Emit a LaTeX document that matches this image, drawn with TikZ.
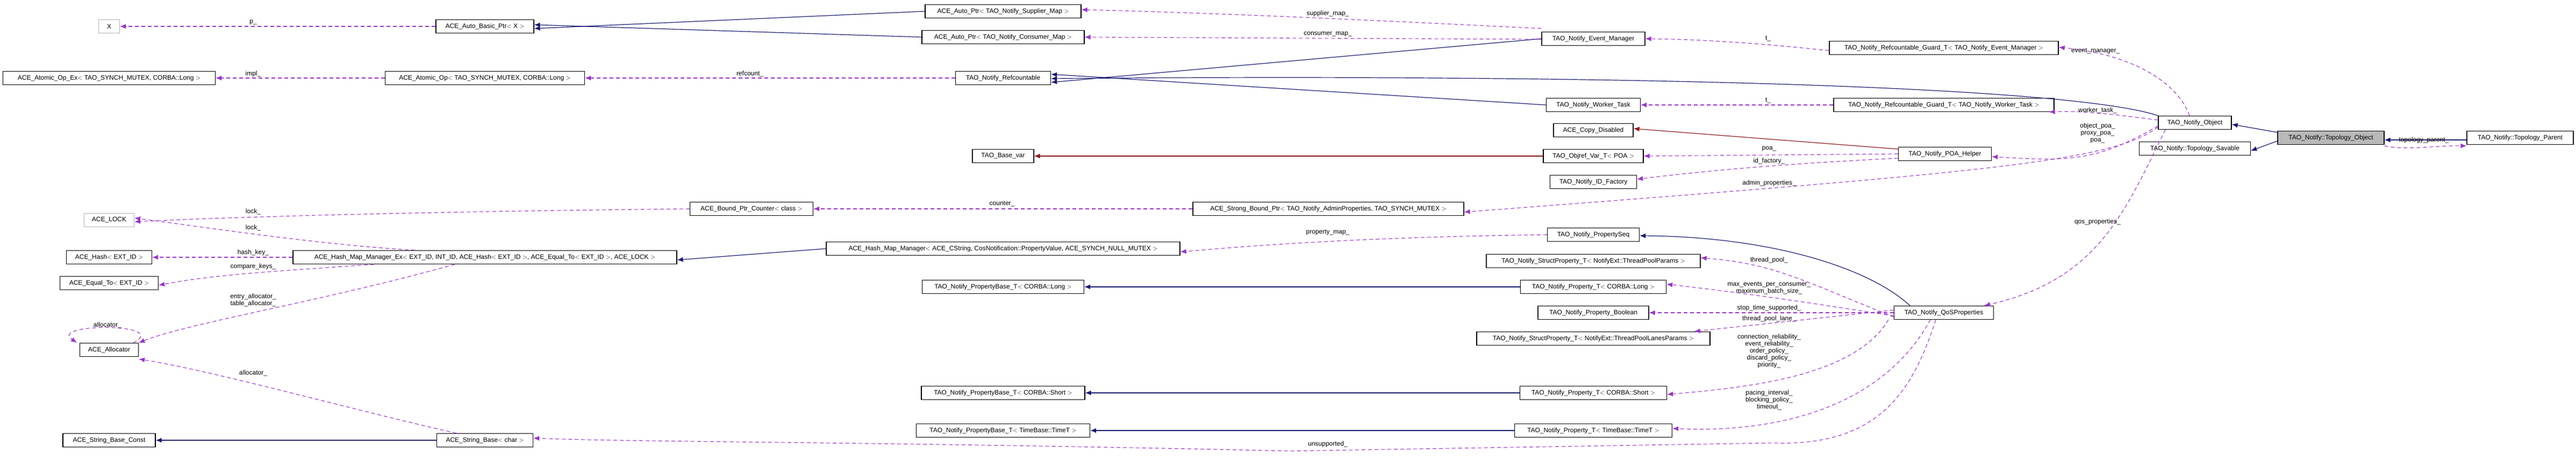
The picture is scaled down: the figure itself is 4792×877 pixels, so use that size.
\documentclass[tikz,border=0pt]{standalone}
\usepackage{fontspec}
\setmainfont{Liberation Sans}
\usetikzlibrary{arrows.meta}
\definecolor{inh}{HTML}{191970}
\definecolor{prot}{HTML}{8B1A1A}
\definecolor{usecol}{HTML}{9A32CD}
\tikzset{
  cls/.style={draw, line width=1.2pt, minimum height=25pt, inner sep=2pt, font=\fontsize{12}{14}\selectfont},
  ext/.style={cls, draw=gray!60},
  inherit/.style={draw=inh, line width=1.2pt, -{Latex[length=11pt,width=9pt]}},
  protinh/.style={draw=prot, line width=1.2pt, -{Latex[length=11pt,width=9pt]}},
  uses/.style={draw=usecol, line width=1.1pt, dash pattern=on 7pt off 5pt, -{Latex[length=11pt,width=9pt,fill=usecol]}},
  lbl/.style={font=\fontsize{12}{13}\selectfont, align=center, inner sep=0pt}
}
\begin{document}
\begin{tikzpicture}[x=1pt,y=-1pt]
\useasboundingbox (0,0) rectangle (4792,877);
% left column
\node[ext, minimum width=39pt] (x) at (203,49) {X};
\node[cls, minimum width=395pt] (opex) at (203,145) {ACE\_Atomic\_Op\_Ex$<$ TAO\_SYNCH\_MUTEX, CORBA::Long $>$};
\node[ext, minimum width=93pt] (lock) at (203,409) {ACE\_LOCK};
\node[cls, minimum width=159pt] (hash) at (203,478) {ACE\_Hash$<$ EXT\_ID $>$};
\node[cls, minimum width=183pt] (equal) at (203,526) {ACE\_Equal\_To$<$ EXT\_ID $>$};
\node[cls, minimum width=109pt] (alloc) at (203,650) {ACE\_Allocator};
\node[cls, minimum width=172pt] (sbconst) at (203,818) {ACE\_String\_Base\_Const};
% second column
\node[cls, minimum width=182pt] (autobasic) at (902,49) {ACE\_Auto\_Basic\_Ptr$<$ X $>$};
\node[cls, minimum width=371pt] (atomicop) at (902,145) {ACE\_Atomic\_Op$<$ TAO\_SYNCH\_MUTEX, CORBA::Long $>$};
\node[cls, minimum width=714pt] (hashex) at (902,478) {ACE\_Hash\_Map\_Manager\_Ex$<$ EXT\_ID, INT\_ID, ACE\_Hash$<$ EXT\_ID $>$, ACE\_Equal\_To$<$ EXT\_ID $>$, ACE\_LOCK $>$};
\node[cls, minimum width=179pt] (strbase) at (902,818) {ACE\_String\_Base$<$ char $>$};
\node[cls, minimum width=229pt] (counter) at (1398,388) {ACE\_Bound\_Ptr\_Counter$<$ class $>$};
% third column
\node[cls, minimum width=290pt] (autosup) at (1866,21) {ACE\_Auto\_Ptr$<$ TAO\_Notify\_Supplier\_Map $>$};
\node[cls, minimum width=302pt] (autocons) at (1866,69) {ACE\_Auto\_Ptr$<$ TAO\_Notify\_Consumer\_Map $>$};
\node[cls, minimum width=177pt] (refc) at (1866,145) {TAO\_Notify\_Refcountable};
\node[cls, minimum width=114pt] (basevar) at (1866,290) {TAO\_Base\_var};
\node[cls, minimum width=504pt] (strong) at (2471,388) {ACE\_Strong\_Bound\_Ptr$<$ TAO\_Notify\_AdminProperties, TAO\_SYNCH\_MUTEX $>$};
\node[cls, minimum width=658pt] (hashmgr) at (1866,462) {ACE\_Hash\_Map\_Manager$<$ ACE\_CString, CosNotification::PropertyValue, ACE\_SYNCH\_NULL\_MUTEX $>$};
\node[cls, minimum width=301pt] (pblong) at (1866,533) {TAO\_Notify\_PropertyBase\_T$<$ CORBA::Long $>$};
\node[cls, minimum width=304pt] (pbshort) at (1866,730) {TAO\_Notify\_PropertyBase\_T$<$ CORBA::Short $>$};
\node[cls, minimum width=323pt] (pbtime) at (1866,800) {TAO\_Notify\_PropertyBase\_T$<$ TimeBase::TimeT $>$};
% fourth column
\node[cls, minimum width=192pt] (evmgr) at (2964,72) {TAO\_Notify\_Event\_Manager};
\node[cls, minimum width=175pt] (worker) at (2964,195) {TAO\_Notify\_Worker\_Task};
\node[cls, minimum width=148pt] (copydis) at (2964,242) {ACE\_Copy\_Disabled};
\node[cls, minimum width=186pt] (objref) at (2964,290) {TAO\_Objref\_Var\_T$<$ POA $>$};
\node[cls, minimum width=161pt] (idfact) at (2964,338) {TAO\_Notify\_ID\_Factory};
\node[cls, minimum width=171pt] (propseq) at (2964,436) {TAO\_Notify\_PropertySeq};
\node[cls, minimum width=398pt] (stpp) at (2964,485) {TAO\_Notify\_StructProperty\_T$<$ NotifyExt::ThreadPoolParams $>$};
\node[cls, minimum width=271pt] (plong) at (2964,533) {TAO\_Notify\_Property\_T$<$ CORBA::Long $>$};
\node[cls, minimum width=206pt] (pbool) at (2964,581) {TAO\_Notify\_Property\_Boolean};
\node[cls, minimum width=434pt] (stpl) at (2964,629) {TAO\_Notify\_StructProperty\_T$<$ NotifyExt::ThreadPoolLanesParams $>$};
\node[cls, minimum width=273pt] (pshort) at (2964,730) {TAO\_Notify\_Property\_T$<$ CORBA::Short $>$};
\node[cls, minimum width=293pt] (ptime) at (2964,800) {TAO\_Notify\_Property\_T$<$ TimeBase::TimeT $>$};
% right part
\node[cls, minimum width=426pt] (guardem) at (3616,89) {TAO\_Notify\_Refcountable\_Guard\_T$<$ TAO\_Notify\_Event\_Manager $>$};
\node[cls, minimum width=410pt] (guardwt) at (3616,195) {TAO\_Notify\_Refcountable\_Guard\_T$<$ TAO\_Notify\_Worker\_Task $>$};
\node[cls, minimum width=173pt] (poahelp) at (3618,286) {TAO\_Notify\_POA\_Helper};
\node[cls, minimum width=185pt] (qos) at (3616,581) {TAO\_Notify\_QoSProperties};
\node[cls, minimum width=136pt] (nobj) at (4083,228) {TAO\_Notify\_Object};
\node[cls, minimum width=207pt] (savable) at (4083,276) {TAO\_Notify::Topology\_Savable};
\node[cls, fill=gray!55, minimum width=198pt] (topo) at (4336,256) {TAO\_Notify::Topology\_Object};
\node[cls, minimum width=198pt] (parent) at (4688,256) {TAO\_Notify::Topology\_Parent};

% inheritance
\draw[inherit] (autosup.west) -- ([yshift=-4pt]autobasic.east);
\draw[inherit] (autocons.west) -- ([yshift=3pt]autobasic.east);
\draw[inherit] (evmgr.west) -- ([yshift=-8pt]refc.east);
\draw[inherit] (nobj.north west) .. controls (3850,160) and (3000,137) .. ([yshift=-1pt]refc.east);
\draw[inherit] (worker.west) -- ([yshift=7pt]refc.east);
\draw[inherit] (hashmgr.west) -- ([yshift=-5pt]hashex.east);
\draw[inherit] (plong.west) -- (pblong.east);
\draw[inherit] (pshort.west) -- (pbshort.east);
\draw[inherit] (ptime.west) -- (pbtime.east);
\draw[inherit] ([xshift=30pt]qos.north west) .. controls (3480,500) and (3300,440) .. ([yshift=-2pt]propseq.east);
\draw[inherit] ([yshift=10pt]topo.west) -- ([yshift=-3pt]nobj.east);
\draw[inherit] ([yshift=-6pt]topo.west) -- ([yshift=-4pt]savable.east);
\draw[inherit] ([yshift=-4pt]parent.west) -- ([yshift=-4pt]topo.east);
\draw[inherit] (strbase.west) -- (sbconst.east);
\draw[protinh] ([yshift=9pt]poahelp.west) -- ([yshift=3pt]copydis.east);
\draw[protinh] (objref.west) -- (basevar.east);

% usage
\draw[uses] (autobasic.west) -- (x.east);
\node[lbl] (lp) at (471,42) {p\_};
\draw[uses] (atomicop.west) -- (opex.east);
\node[lbl] (limpl) at (471,137) {impl\_};
\draw[uses] (refc.west) -- (atomicop.east);
\node[lbl] (lref) at (1395,137) {refcount\_};
\draw[uses] (counter.west) .. controls (900,392) and (500,400) .. ([yshift=-3pt]lock.east);
\node[lbl] (llock) at (471,393) {lock\_};
\draw[uses] ([xshift=-130pt]hashex.north) .. controls (600,455) and (400,425) .. ([yshift=4pt]lock.east);
\node[lbl] (llockb) at (471,423) {lock\_};
\draw[uses] (hashex.west) -- (hash.east);
\node[lbl] (lhash) at (471,469) {hash\_key\_};
\draw[uses] ([xshift=-206pt]hashex.south) .. controls (500,505) and (400,510) .. ([yshift=-4pt]equal.east);
\node[lbl] (lcmp) at (471,495) {compare\_keys\_};
\draw[uses] ([xshift=-56pt]hashex.south) .. controls (600,560) and (350,600) .. (alloc.north east);
\node[lbl] (lentry) at (471,558) {entry\_allocator\_\\table\_allocator\_};
\draw[uses] ([xshift=-10pt]alloc.north east) .. controls (320,600) and (90,600) .. ([xshift=-5pt]alloc.north west);
\node[lbl] (lself) at (200,604) {allocator\_};
\draw[uses] ([xshift=-53pt]strbase.north) .. controls (650,760) and (400,690) .. ([yshift=-4pt]alloc.south east);
\node[lbl] (lalloc) at (471,693) {allocator\_};
\draw[uses] (strong.west) -- (counter.east);
\node[lbl] (lcount) at (1864,379) {counter\_};
\draw[uses] ([yshift=6pt]evmgr.north west) .. controls (2600,40) and (2300,25) .. ([yshift=3pt]autosup.east);
\node[lbl] (lsup) at (2470,25) {supplier\_map\_};
\draw[uses] ([yshift=-1pt]evmgr.west) -- (autocons.east);
\node[lbl] (lcons) at (2470,64) {consumer\_map\_};
\draw[uses] ([yshift=-5pt]guardem.west) .. controls (3250,78) and (3150,73) .. (evmgr.east);
\node[lbl] (lt) at (3289,72) {t\_};
\draw[uses] (guardwt.west) -- (worker.east);
\node[lbl] (ltb) at (3289,187) {t\_};
\draw[uses] ([xshift=-10pt]nobj.north) .. controls (4050,150) and (3960,100) .. ([yshift=1pt]guardem.east);
\node[lbl, anchor=west] (lem) at (3853,95) {event\_manager\_};
\draw[uses] ([yshift=5pt]nobj.west) .. controls (3950,215) and (3880,205) .. ([xshift=-10pt]guardwt.south east);
\node[lbl] (lwt) at (3902,205) {worker\_task\_};
\draw[uses] ([yshift=-6pt]nobj.west) .. controls (3900,300) and (3850,300) .. ([yshift=-5pt]poahelp.east);
\node[lbl] (lpoa) at (3902,247) {object\_poa\_\\proxy\_poa\_\\poa\_};
\draw[uses] ([yshift=-8pt]nobj.west) .. controls (3930,300) and (3700,320) .. ([yshift=-6pt]strong.east);
\node[lbl] (ladmin) at (3291,340) {admin\_properties\_};
\draw[uses] ([xshift=-55pt]nobj.south) .. controls (3950,400) and (3900,520) .. ([xshift=-18pt]qos.north east);
\node[lbl] (lqos) at (3902,412) {qos\_properties\_};
\draw[uses] (poahelp.west) -- (objref.east);
\node[lbl] (lpoab) at (3291,277) {poa\_};
\draw[uses] ([yshift=-8pt]poahelp.west) .. controls (3300,305) and (3150,320) .. ([yshift=5pt]idfact.east);
\node[lbl] (lid) at (3291,299) {id\_factory\_};
\draw[uses] (propseq.west) .. controls (2600,440) and (2400,450) .. ([yshift=-6pt]hashmgr.east);
\node[lbl] (lprop) at (2470,432) {property\_map\_};
\draw[uses] ([yshift=-8pt]qos.west) .. controls (3350,520) and (3300,490) .. ([yshift=6pt]stpp.east);
\node[lbl] (ltp) at (3291,483) {thread\_pool\_};
\draw[uses] ([yshift=-6pt]qos.west) .. controls (3350,560) and (3250,545) .. ([yshift=5pt]plong.east);
\node[lbl] (lmax) at (3291,535) {max\_events\_per\_consumer\_\\maximum\_batch\_size\_};
\draw[uses] (qos.west) -- (pbool.east);
\node[lbl] (lstop) at (3291,572) {stop\_time\_supported\_};
\draw[uses] ([yshift=5pt]qos.west) .. controls (3350,595) and (3250,605) .. ([xshift=-30pt]stpl.north east);
\node[lbl] (llane) at (3291,592) {thread\_pool\_lane\_};
\draw[uses] ([xshift=-10pt]qos.south west) .. controls (3450,700) and (3250,720) .. ([yshift=-3pt]pshort.east);
\node[lbl] (lrel) at (3291,652) {connection\_reliability\_\\event\_reliability\_\\order\_policy\_\\discard\_policy\_\\priority\_};
\draw[uses] ([xshift=-25pt]qos.south) .. controls (3500,760) and (3300,805) .. ([yshift=4pt]ptime.east);
\node[lbl] (lpace) at (3291,743) {pacing\_interval\_\\blocking\_policy\_\\timeout\_};
\draw[uses] ([xshift=-15pt]qos.south) .. controls (3560,720) and (3500,830) .. (3300,823) -- (2400,838) .. controls (1600,820) and (1200,822) .. ([yshift=4pt]strbase.east);
\node[lbl] (lunsup) at (2470,825) {unsupported\_};
\draw[uses] ([yshift=-2pt]topo.south east) .. controls (4480,280) and (4530,270) .. ([yshift=-2pt]parent.south west);
\node[lbl] (ltopo) at (4509,260) {topology\_parent\_};
\end{tikzpicture}
\end{document}
